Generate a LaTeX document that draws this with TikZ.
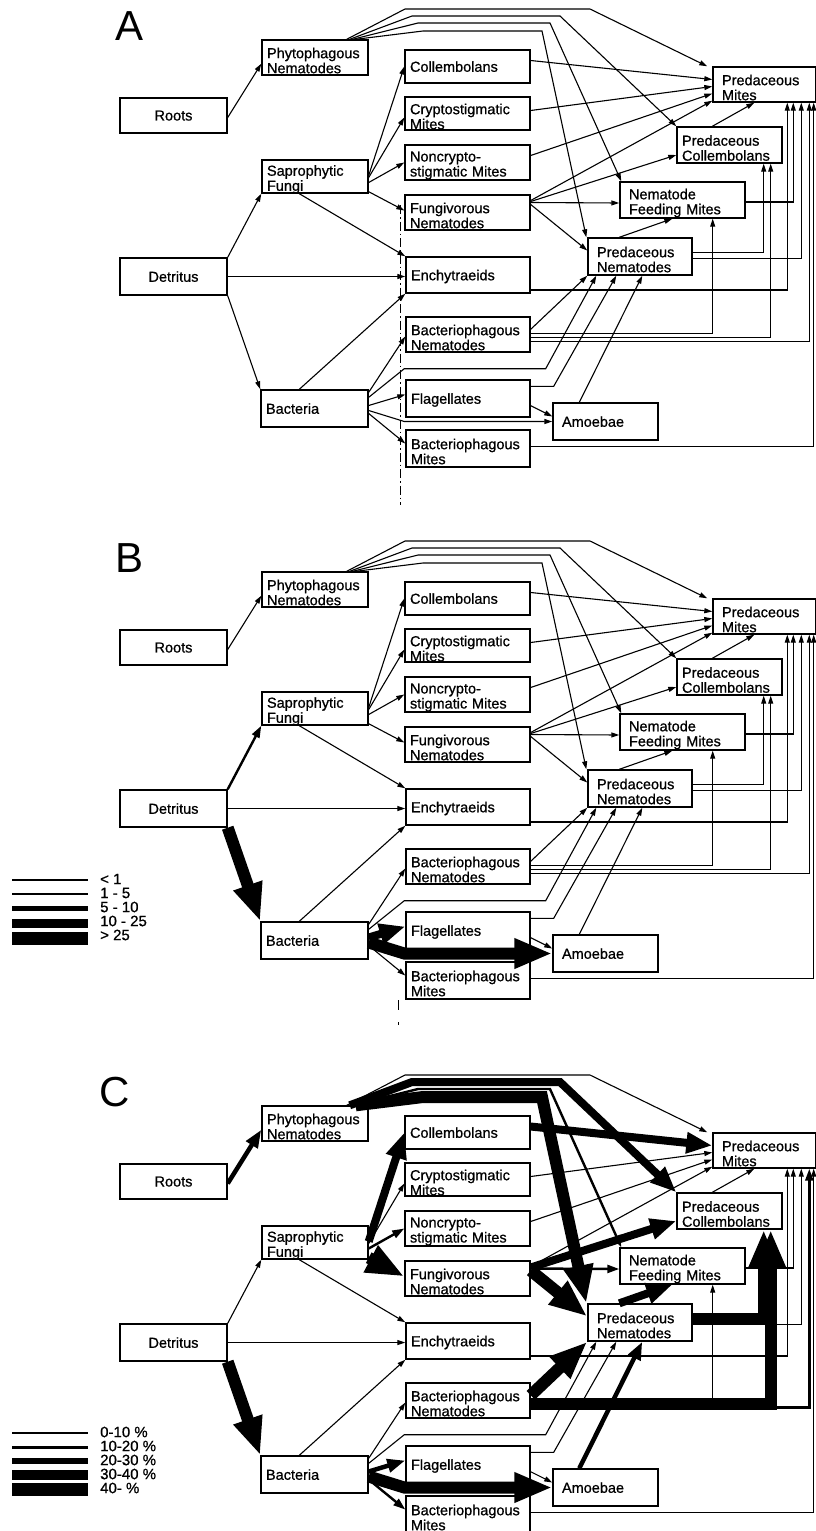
\documentclass[tikz,border=0pt]{standalone}
\usepackage{fontspec}
\setmainfont{Liberation Sans}
\newfontfamily\webfam{Liberation Sans}[FakeBold=0.8]
\usetikzlibrary{arrows.meta,calc}
\newcommand\webfont{\webfam\fontsize{14.5}{15}\selectfont}
\newcommand\legfont{\webfam\fontsize{15}{15}\selectfont}
\tikzset{
  bx/.style={draw, line width=1.4pt, inner xsep=5pt, inner ysep=0pt, align=left, font=\webfont,
    execute at end node={\par\kern-6pt}},
  cx/.style={bx, align=center},
  px/.style={bx, inner xsep=9pt},
  w1/.style={line width=1.1pt, -{Triangle[length=8pt,width=5pt]}},
  w2/.style={line width=2.4pt, -{Triangle[length=12pt,width=8pt]}},
  w3/.style={line width=4.5pt, -{Triangle[length=18pt,width=13pt]}},
  w4/.style={line width=8pt, -{Triangle[length=26pt,width=20pt]}},
  w5/.style={line width=12pt, -{Triangle[length=38pt,width=28pt]}},
  xRP/.style={w1}, xDF/.style={w1}, xDE/.style={w1}, xDB/.style={w1},
  xFC/.style={w1}, xFY/.style={w1}, xFN/.style={w1}, xFG/.style={w1}, xFE/.style={w1},
  xBE/.style={w1}, xBN/.style={w1}, xBP/.style={w1}, xBF/.style={w1}, xBA/.style={w1}, xBM/.style={w1},
  xFA/.style={w1}, xFP/.style={w1}, xAP/.style={w1},
  xNP/.style={w1}, xNF/.style={w1}, xNC/.style={w1}, xNM/.style={w1}, xEM/.style={w1},
  xPC/.style={w1}, xPM/.style={w1}, xPF/.style={w1}, xFM/.style={w1}, xCM/.style={w1},
  xGM/.style={w1}, xGC/.style={w1}, xGF/.style={w1}, xGP/.style={w1},
  xCoM/.style={w1}, xCrM/.style={w1}, xNoM/.style={w1},
  xHa/.style={w1}, xHb/.style={w1}, xHc/.style={w1}, xHd/.style={w1}, xBMM/.style={w1},
  legline/.style={line width=#1},
  leglab/.style={anchor=west, inner sep=0pt, font=\legfont}
}
\newcommand\webnodes{
  \node[cx, text width=97pt, minimum height=35pt] (roots) at (173.5,115.5) {Roots};
  \node[bx, text width=96pt, minimum height=35pt] (phy) at (315,57.5) {Phytophagous\\Nematodes};
  \node[bx, text width=96pt, minimum height=33pt] (fun) at (315,176.5) {Saprophytic\\Fungi};
  \node[cx, text width=97pt, minimum height=37pt] (det) at (173.5,276.5) {Detritus};
  \node[bx, text width=97pt, minimum height=37pt] (bac) at (314.5,408.5) {Bacteria};
  \node[bx, text width=115pt, minimum height=33pt] (col) at (467.5,66.5) {Collembolans};
  \node[bx, text width=115pt, minimum height=33pt] (cry) at (467.5,113.5) {Cryptostigmatic\\Mites};
  \node[bx, text width=115pt, minimum height=35pt] (non) at (467.5,162.5) {Noncrypto-\\stigmatic Mites};
  \node[bx, text width=115pt, minimum height=35pt] (fgn) at (467.5,212.5) {Fungivorous\\Nematodes};
  \node[bx, text width=114pt, minimum height=36pt] (enc) at (468,275) {Enchytraeids};
  \node[bx, text width=114pt, minimum height=35pt] (bnm) at (468,334.5) {Bacteriophagous\\Nematodes};
  \node[bx, text width=114pt, minimum height=37pt] (fla) at (468,398.5) {Flagellates};
  \node[bx, text width=114pt, minimum height=37pt] (bmi) at (468,448.5) {Bacteriophagous\\Mites};
  \node[px, text width=85pt, minimum height=35pt] (pmi) at (764.5,84.5) {Predaceous\\Mites};
  \node[bx, text width=95pt, minimum height=36pt] (pco) at (729.5,145) {Predaceous\\Collembolans};
  \node[px, text width=107pt, minimum height=36pt] (nfm) at (682.5,200) {Nematode\\Feeding Mites};
  \node[px, text width=86pt, minimum height=37pt] (pne) at (640,256.5) {Predaceous\\Nematodes};
  \node[px, text width=87pt, minimum height=37pt] (amo) at (605.5,421.5) {Amoebae};
}
\newcommand\webedges{
  \draw[xRP] ($(roots.east)+(0,2)$) -- ($(phy.south west)+(0,-12)$);
  \draw[xDF] (det.north east) -- (fun.south west);
  \draw[xDE] (det.east) -- (enc.west |- det.east);
  \draw[xDB] (det.south east) -- (bac.north west);
  \draw[xFC] ($(fun.east)+(0,-1)$) -- (col.west);
  \draw[xFY] ($(fun.east)+(0,1)$) -- ($(cry.west)+(0,4)$);
  \draw[xFN] ($(fun.east)+(0,6)$) -- (non.west);
  \draw[xFG] ($(fun.south east)+(0,-2)$) -- ($(fgn.west)+(0,-2)$);
  \draw[xFE] ($(fun.south west)+(38,0)$) -- (enc.north west);
  \draw[xBE] ($(bac.north west)+(39,0)$) -- (enc.south west);
  \draw[xBN] ($(bac.north east)+(0,3)$) -- ($(bnm.west)+(0,2)$);
  \draw[xBP] ($(bac.north east)+(0,8)$) -- ($(bnm.south west)+(-1,16)$) -- ($(bnm.south east)+(15,16)$) -- ($(pne.south west)+(9,0)$);
  \draw[xBM] ($(bac.east)+(0,5)$) -- ($(bmi.west)+(0,-5)$);
  \draw[xFA] ($(fla.south east)+(0,-12)$) -- ($(amo.west)+(0,-5)$);
  \draw[xFP] ($(fla.north east)+(0,7)$) -- ($(fla.north east)+(23,7)$) -- ($(pne.south west)+(29,0)$);
  \draw[xAP] ($(amo.north west)+(27,0)$) -- ($(pne.south west)+(55,0)$);
  \draw[xNF] ($(bnm.east)+(0,-1)$) -| ($(nfm.south east)+(-33,0)$);
  \draw[xNM] ($(bnm.east)+(0,7)$) -| ($(pmi.south west)+(97,0)$);
  \draw[xNC] ($(bnm.east)+(0,3)$) -| ($(pco.south east)+(-12,0)$);
  \draw[xNP] ($(bnm.north east)+(0,13)$) -- (pne.south west);
  \draw[xEM] ($(enc.east)+(0,15)$) -| ($(pmi.south west)+(75,0)$);
  \draw[xPM] ($(pne.east)+(0,2)$) -| ($(pmi.south west)+(89,0)$);
  \draw[xPC] ($(pne.east)+(0,-4)$) -| ($(pco.south east)+(-19,0)$);
  \draw[xPF] ($(pne.north west)+(32,0)$) -- ($(nfm.south west)+(53,0)$);
  \draw[xFM] ($(nfm.east)+(0,2)$) -| ($(pmi.south west)+(81,0)$);
  \draw[xCM] ($(pco.north west)+(36,0)$) -- ($(pmi.south west)+(42,0)$);
  \draw[xGM] ($(fgn.east)+(0,-12)$) -- ($(pmi.south west)+(0,-2)$);
  \draw[xGF] ($(fgn.east)+(0,-10)$) -- ($(nfm.west)+(0,3)$);
  \draw[xCrM] ($(cry.east)+(0,-3)$) -- ($(pmi.west)+(0,2)$);
  \draw[xNoM] ($(non.east)+(0,-7)$) -- ($(pmi.west)+(0,9)$);
  \draw[xHa] ($(phy.north east)+(-22,0)$) -- (405,9) -- (590,9) -- ($(pmi.north west)+(-5,0)$);
  \draw[xHc] ($(phy.north east)+(-16,0)$) -- (418,23) -- (550,23) -- ($(nfm.north west)+(2,0)$);
  \draw[xHb] ($(phy.north east)+(-19,0)$) -- (412,16) -- (560,16) -- (pco.north west);
  \draw[xHd] ($(phy.north east)+(-13,0)$) -- (423,31) -- (542,31) -- ($(pne.north west)+(-1,0)$);
  \draw[xCoM] ($(col.east)+(0,-6)$) -- ($(pmi.west)+(0,-5)$);
  \draw[xGC] ($(fgn.east)+(0,-11)$) -- ($(pco.west)+(0,10)$);
  \draw[xGP] ($(fgn.east)+(0,-8)$) -- ($(pne.west)+(0,-6)$);
  \draw[xBF] ($(bac.east)+(0,-3)$) -- ($(fla.west)+(0,-4)$);
  \draw[xBA] ($(bac.east)+(0,2)$) -- ($(fla.west |- amo.west)+(-1,0)$) -- (amo.west);
  \draw[xBMM] ($(bmi.east)+(0,-2)$) -| ($(pmi.south east)+(-3,0)$);
}
\begin{document}
\begin{tikzpicture}[x=1pt, y=-1pt]
\useasboundingbox (0,0) rectangle (815,1531);
% Panel A
\begin{scope}[name prefix=A-]
  \node[font=\fontsize{42}{42}\selectfont, inner sep=0pt] (lab) at (130,26) {A};
  \webnodes
  \webedges
  \draw[line width=0.8pt, dash pattern=on 9pt off 3pt on 1.5pt off 3pt] (400,205) -- (400,505);
\end{scope}
% Panel B
\begin{scope}[yshift=-532pt, name prefix=B-,
  xDF/.style={w2}, xDB/.style={w5}, xBF/.style={w4}, xBA/.style={w5}]
  \node[font=\fontsize{42}{42}\selectfont, inner sep=0pt] (lab) at (130,26) {B};
  \webnodes
  \webedges
  \draw[line width=0.8pt, dash pattern=on 10pt off 12pt on 3pt off 20pt] (398,468) -- (398,510);
\end{scope}
% Panel C
\begin{scope}[yshift=-1066pt, name prefix=C-,
  xRP/.style={w3}, xDB/.style={w5}, xFC/.style={w4}, xFN/.style={w2}, xFG/.style={w5},
  xBF/.style={w3}, xBA/.style={w5}, xBM/.style={w2},
  xHb/.style={w4}, xHc/.style={w2}, xHd/.style={w5},
  xCoM/.style={w4}, xGC/.style={w4}, xGF/.style={w2}, xGP/.style={w5},
  xPF/.style={w4}, xNP/.style={w5}, xNC/.style={w5}, xNM/.style={w2},
  xPC/.style={w5}, xAP/.style={w3}]
  \node[font=\fontsize{42}{42}\selectfont, inner sep=0pt] (lab) at (115,26) {C};
  \webnodes
  \webedges
\end{scope}
% Legend B
\draw[legline=1.2pt] (12,880) -- (88,880);
\draw[legline=2.5pt] (12,894) -- (88,894);
\draw[legline=5pt] (12,908) -- (88,908);
\draw[legline=9pt] (12,923) -- (88,923);
\draw[legline=13pt] (12,938) -- (88,938);
\node[leglab] (lb1) at (100,879) {< 1};
\node[leglab] (lb2) at (100,893) {1 - 5};
\node[leglab] (lb3) at (100,907) {5 - 10};
\node[leglab] (lb4) at (100,921) {10 - 25};
\node[leglab] (lb5) at (100,935) {> 25};
% Legend C
\draw[legline=1.2pt] (12,1433) -- (88,1433);
\draw[legline=3pt] (12,1447) -- (88,1447);
\draw[legline=6pt] (12,1461) -- (88,1461);
\draw[legline=10pt] (12,1475) -- (88,1475);
\draw[legline=13pt] (12,1489) -- (88,1489);
\node[leglab] (lc1) at (100,1432) {0-10 \%};
\node[leglab] (lc2) at (100,1446) {10-20 \%};
\node[leglab] (lc3) at (100,1460) {20-30 \%};
\node[leglab] (lc4) at (100,1474) {30-40 \%};
\node[leglab] (lc5) at (100,1488) {40- \%};
\end{tikzpicture}
\end{document}
